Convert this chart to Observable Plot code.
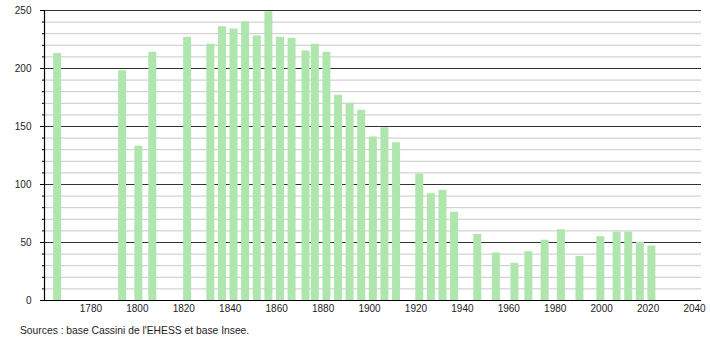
<!DOCTYPE html>
<html>
<head>
<meta charset="utf-8">
<script src="https://cdn.jsdelivr.net/npm/d3@7"></script>
<script src="https://cdn.jsdelivr.net/npm/@observablehq/plot@0.6"></script>
<style>
  html, body { margin: 0; padding: 0; background: #fff; }
  #chart svg { display: block; }
  #caption { font: 10.3px "Liberation Sans", Arial, sans-serif; color: #222; padding-left: 20px; line-height: 13px; margin-top: 6px; }
</style>
</head>
<body>
<div id="chart"></div>
<div id="caption">Sources : base Cassini de l'EHESS et base Insee.</div>
<script>
const years = [1765, 1793, 1800, 1806, 1821, 1831, 1836, 1841, 1846, 1851, 1856, 1861, 1866, 1872, 1876, 1881, 1886, 1891, 1896, 1901, 1906, 1911, 1921, 1926, 1931, 1936, 1946, 1954, 1962, 1968, 1975, 1982, 1990, 1999, 2006, 2011, 2016, 2021];
const population = [213, 198, 133, 214, 227, 221, 236, 234, 240, 228, 249, 227, 226, 215, 221, 214, 177, 170, 164, 141, 149, 136, 109, 92, 95, 76, 57, 41, 32, 42, 52, 61, 38, 55, 59, 59, 50, 47];
const xTicks = [1780, 1800, 1820, 1840, 1860, 1880, 1900, 1920, 1940, 1960, 1980, 2000, 2020, 2040];
const yMajor = [0, 50, 100, 150, 200, 250];
const yMinor = d3.range(0, 251, 10).filter(v => v % 50 !== 0);

const data = years.map((y, i) => ({year: y, pop: population[i]}));

const chart = Plot.plot({
  width: 710,
  height: 318,
  marginLeft: 44,
  marginRight: 9,
  marginTop: 10,
  marginBottom: 18,
  style: {fontFamily: '"Liberation Sans", Arial, sans-serif', fontSize: "10px", color: "#222", background: "#fff"},
  x: {domain: [1760, 2043], axis: null},
  y: {domain: [0, 250], axis: null},
  marks: [
    Plot.ruleY(yMinor, {stroke: "#c8c8c8", strokeWidth: 1}),
    Plot.ruleY(yMajor, {stroke: "#333", strokeWidth: 1}),
    Plot.ruleX(data, {x: "year", y1: 0, y2: "pop", stroke: "#aee6ae", strokeWidth: 8, dx: 1}),
    Plot.ruleY([0], {stroke: "#000", strokeWidth: 1.2}),
    Plot.ruleX([1760], {stroke: "#000", strokeWidth: 1.2}),
    Plot.axisY(yMinor, {tickSize: 2, label: null, tickFormat: () => "", stroke: "#000"}),
    Plot.axisY(yMajor, {tickSize: 4, tickPadding: 9, label: null, stroke: "#000", fill: "#222", fontSize: 10}),
    Plot.axisX(xTicks, {tickSize: 0, tickPadding: 4, label: null, tickFormat: d => String(d), fill: "#222", fontSize: 10})
  ]
});
document.getElementById("chart").appendChild(chart);
</script>
</body>
</html>
